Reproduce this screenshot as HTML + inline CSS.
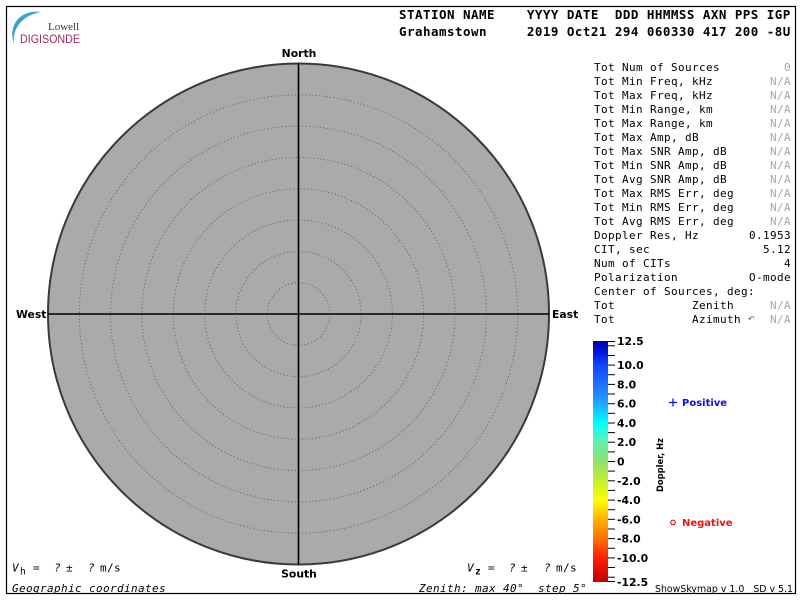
<!DOCTYPE html>
<html>
<head>
<meta charset="utf-8">
<style>
html,body{margin:0;padding:0;background:#fff;}
svg{display:block;}
text{white-space:pre;}
.hdr{font-family:"DejaVu Sans Mono","Liberation Mono",monospace;font-weight:bold;font-size:12.5px;letter-spacing:0.47px;fill:#000;}
.pan{font-family:"DejaVu Sans Mono","Liberation Mono",monospace;font-size:11px;letter-spacing:0.38px;fill:#000;}
.na{fill:#a8a8a8;}
.dir{font-family:"DejaVu Sans","Liberation Sans",sans-serif;font-weight:bold;font-size:10.8px;fill:#000;}
.cb{font-family:"DejaVu Sans","Liberation Sans",sans-serif;font-weight:bold;font-size:10.8px;fill:#000;}
.it{font-family:"DejaVu Sans Mono","Liberation Mono",monospace;font-style:italic;font-size:11px;letter-spacing:0.38px;fill:#000;}
</style>
</head>
<body>
<svg width="800" height="600" viewBox="0 0 800 600" xmlns="http://www.w3.org/2000/svg">
<defs>
<linearGradient id="cbg" x1="0" y1="0" x2="0" y2="1">
<stop offset="0" stop-color="#0000a8"/>
<stop offset="0.05" stop-color="#0018e0"/>
<stop offset="0.1" stop-color="#1048ff"/>
<stop offset="0.18" stop-color="#2070ff"/>
<stop offset="0.26" stop-color="#20a8ff"/>
<stop offset="0.34" stop-color="#00ffff"/>
<stop offset="0.42" stop-color="#60f0b0"/>
<stop offset="0.5" stop-color="#90e070"/>
<stop offset="0.58" stop-color="#c0f030"/>
<stop offset="0.66" stop-color="#ffff00"/>
<stop offset="0.74" stop-color="#ffb000"/>
<stop offset="0.82" stop-color="#ff7000"/>
<stop offset="0.9" stop-color="#ff2000"/>
<stop offset="1" stop-color="#c00000"/>
</linearGradient>
</defs>

<!-- frame -->
<rect x="6.5" y="6.5" width="789" height="587" fill="#fff" stroke="#000" stroke-width="1.2"/>

<!-- logo -->
<path d="M41 12 C 22 9, 7 24, 14 44 C 12 28, 23 15, 41 12 Z" fill="#3ba4c9"/>
<text x="48" y="30" font-family="Liberation Serif, serif" font-size="11" fill="#333">Lowell</text>
<text x="20" y="43" font-family="Liberation Sans, sans-serif" font-size="12" fill="#a3295e" textLength="60" lengthAdjust="spacingAndGlyphs">DIGISONDE</text>

<!-- header -->
<text class="hdr" x="399" y="19">STATION NAME    YYYY DATE  DDD HHMMSS AXN PPS IGP</text>
<text class="hdr" x="399" y="36">Grahamstown     2019 Oct21 294 060330 417 200 -8U</text>

<!-- sky map -->
<circle cx="298.5" cy="314" r="250.5" fill="#aaaaaa" stroke="#3a3a3a" stroke-width="2"/>
<g fill="none" stroke="#6e6e6e" stroke-width="1" stroke-dasharray="1.2 2.3">
<circle cx="298.5" cy="314" r="31.3"/>
<circle cx="298.5" cy="314" r="62.6"/>
<circle cx="298.5" cy="314" r="93.9"/>
<circle cx="298.5" cy="314" r="125.2"/>
<circle cx="298.5" cy="314" r="156.6"/>
<circle cx="298.5" cy="314" r="187.9"/>
<circle cx="298.5" cy="314" r="219.2"/>
</g>
<line x1="298.5" y1="63.5" x2="298.5" y2="564.5" stroke="#000" stroke-width="1.6"/>
<line x1="48" y1="314" x2="549" y2="314" stroke="#000" stroke-width="1.6"/>

<text class="dir" x="299" y="57" text-anchor="middle">North</text>
<text class="dir" x="299" y="577.5" text-anchor="middle">South</text>
<text class="dir" x="16" y="318">West</text>
<text class="dir" x="552" y="318">East</text>

<!-- right panel -->
<g class="pan">
<text x="594" y="71">Tot Num of Sources</text>
<text x="594" y="85">Tot Min Freq, kHz</text>
<text x="594" y="99">Tot Max Freq, kHz</text>
<text x="594" y="113">Tot Min Range, km</text>
<text x="594" y="127">Tot Max Range, km</text>
<text x="594" y="141">Tot Max Amp, dB</text>
<text x="594" y="155">Tot Max SNR Amp, dB</text>
<text x="594" y="169">Tot Min SNR Amp, dB</text>
<text x="594" y="183">Tot Avg SNR Amp, dB</text>
<text x="594" y="197">Tot Max RMS Err, deg</text>
<text x="594" y="211">Tot Min RMS Err, deg</text>
<text x="594" y="225">Tot Avg RMS Err, deg</text>
<text x="594" y="239">Doppler Res, Hz</text>
<text x="594" y="253">CIT, sec</text>
<text x="594" y="267">Num of CITs</text>
<text x="594" y="281">Polarization</text>
<text x="594" y="295">Center of Sources, deg:</text>
<text x="594" y="309">Tot           Zenith</text>
<text x="594" y="323">Tot           Azimuth</text>
</g>
<g class="pan" text-anchor="end">
<text class="na" x="791" y="71">0</text>
<text class="na" x="791" y="85">N/A</text>
<text class="na" x="791" y="99">N/A</text>
<text class="na" x="791" y="113">N/A</text>
<text class="na" x="791" y="127">N/A</text>
<text class="na" x="791" y="141">N/A</text>
<text class="na" x="791" y="155">N/A</text>
<text class="na" x="791" y="169">N/A</text>
<text class="na" x="791" y="183">N/A</text>
<text class="na" x="791" y="197">N/A</text>
<text class="na" x="791" y="211">N/A</text>
<text class="na" x="791" y="225">N/A</text>
<text x="791" y="239">0.1953</text>
<text x="791" y="253">5.12</text>
<text x="791" y="267">4</text>
<text x="791" y="281">O-mode</text>
<text class="na" x="791" y="309">N/A</text>
<text class="na" x="791" y="323">N/A</text>
</g>
<text x="748" y="321.5" font-family="DejaVu Sans, sans-serif" font-size="8" fill="#555">↶</text>

<!-- colorbar -->
<rect x="593" y="341" width="15" height="241" fill="url(#cbg)"/>
<g stroke="#000" stroke-width="1">
<line x1="608" y1="341.5" x2="615" y2="341.5"/>
<line x1="608" y1="345.8" x2="615" y2="345.8"/>
<line x1="608" y1="355.5" x2="615" y2="355.5"/>
<line x1="608" y1="365.1" x2="615" y2="365.1"/>
<line x1="608" y1="374.7" x2="615" y2="374.7"/>
<line x1="608" y1="384.4" x2="615" y2="384.4"/>
<line x1="608" y1="394" x2="615" y2="394"/>
<line x1="608" y1="403.7" x2="615" y2="403.7"/>
<line x1="608" y1="413.3" x2="615" y2="413.3"/>
<line x1="608" y1="423" x2="615" y2="423"/>
<line x1="608" y1="432.6" x2="615" y2="432.6"/>
<line x1="608" y1="442.2" x2="615" y2="442.2"/>
<line x1="608" y1="451.9" x2="615" y2="451.9"/>
<line x1="608" y1="461.5" x2="615" y2="461.5"/>
<line x1="608" y1="471.1" x2="615" y2="471.1"/>
<line x1="608" y1="480.8" x2="615" y2="480.8"/>
<line x1="608" y1="490.4" x2="615" y2="490.4"/>
<line x1="608" y1="500.1" x2="615" y2="500.1"/>
<line x1="608" y1="509.7" x2="615" y2="509.7"/>
<line x1="608" y1="519.3" x2="615" y2="519.3"/>
<line x1="608" y1="529" x2="615" y2="529"/>
<line x1="608" y1="538.6" x2="615" y2="538.6"/>
<line x1="608" y1="548.3" x2="615" y2="548.3"/>
<line x1="608" y1="557.9" x2="615" y2="557.9"/>
<line x1="608" y1="567.5" x2="615" y2="567.5"/>
<line x1="608" y1="577.2" x2="615" y2="577.2"/>
<line x1="608" y1="581.5" x2="615" y2="581.5"/>
</g>
<g class="cb">
<text x="617" y="345">12.5</text>
<text x="617" y="369.1">10.0</text>
<text x="617" y="388.4">8.0</text>
<text x="617" y="407.7">6.0</text>
<text x="617" y="427">4.0</text>
<text x="617" y="446.2">2.0</text>
<text x="617" y="465.5">0</text>
<text x="617" y="484.8">-2.0</text>
<text x="617" y="504.1">-4.0</text>
<text x="617" y="523.3">-6.0</text>
<text x="617" y="542.6">-8.0</text>
<text x="617" y="561.9">-10.0</text>
<text x="617" y="586">-12.5</text>
</g>
<text transform="translate(663,465) rotate(-90)" text-anchor="middle" font-family="DejaVu Sans, sans-serif" font-weight="bold" font-size="9" textLength="54" lengthAdjust="spacingAndGlyphs" fill="#000">Doppler, Hz</text>

<!-- legend -->
<line x1="669" y1="402.5" x2="677" y2="402.5" stroke="#1010e0" stroke-width="1.3"/>
<line x1="673" y1="398.5" x2="673" y2="406.5" stroke="#1010e0" stroke-width="1.3"/>
<text x="682" y="406" font-family="DejaVu Sans, sans-serif" font-weight="bold" font-size="10" fill="#1010e0">Positive</text>
<circle cx="673" cy="522.5" r="2.3" fill="none" stroke="#ee1111" stroke-width="1.2"/>
<text x="682" y="526" font-family="DejaVu Sans, sans-serif" font-weight="bold" font-size="10" fill="#ee1111">Negative</text>

<text x="655" y="592" font-family="DejaVu Sans, sans-serif" font-size="9.5" fill="#000" textLength="138" lengthAdjust="spacingAndGlyphs">ShowSkymap v 1.0   SD v 5.1</text>

<!-- bottom left -->
<g class="it">
<text x="12" y="571.5">V</text>
<text x="33" y="571.5">=</text>
<text x="54" y="571.5">?</text>
<text x="66" y="571.5" font-style="normal">±</text>
<text x="88" y="571.5">?</text>
<text x="100" y="571.5" font-style="normal">m/s</text>
<text x="12" y="592">Geographic coordinates</text>
</g>
<text x="20" y="574.5" font-family="DejaVu Sans Mono, monospace" font-size="9.5" fill="#000">h</text>

<!-- bottom right -->
<g class="it">
<text x="467" y="571.5">V</text>
<text x="488" y="571.5">=</text>
<text x="509" y="571.5">?</text>
<text x="521" y="571.5" font-style="normal">±</text>
<text x="544" y="571.5">?</text>
<text x="556" y="571.5" font-style="normal">m/s</text>
<text x="419" y="592">Zenith: max 40°  step 5°</text>
</g>
<text x="475" y="574.5" font-family="DejaVu Sans Mono, monospace" font-weight="bold" font-size="9.5" fill="#000">z</text>
</svg>
</body>
</html>
